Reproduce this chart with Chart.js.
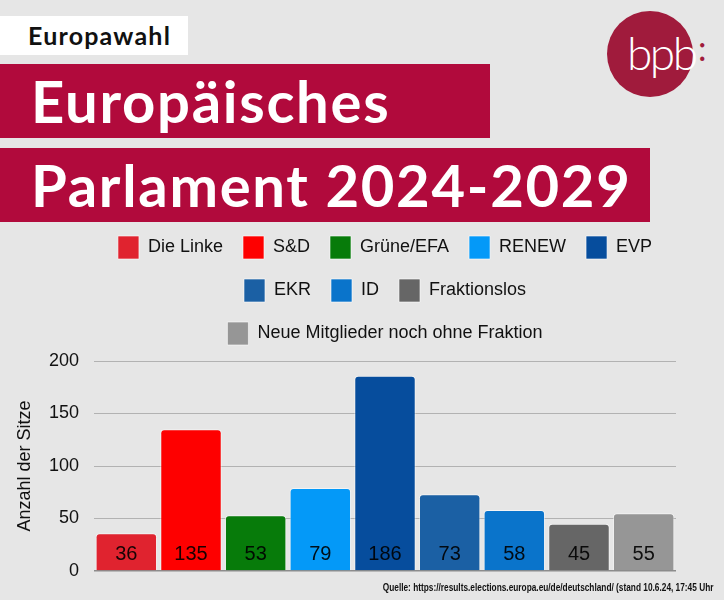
<!DOCTYPE html>
<html lang="de">

<head>
  <meta charset="UTF-8">
  <title>Europäisches Parlament 2024-2029</title>
  <script src="https://cdn.jsdelivr.net/npm/chart.js"></script>
  <style>
    html, body {
      margin: 0;
      padding: 0;
      width: 724px;
      height: 600px;
      overflow: hidden;
      background: #e6e6e6;
    }

    #tag {
      position: absolute;
      left: 0;
      top: 16px;
      width: 160px;
      height: 39px;
      padding-left: 28px;
      background: #fff;
      color: #111;
      font: 700 25px Lato, sans-serif;
      letter-spacing: 1.2px;
      line-height: 39px;
    }

    .band {
      position: absolute;
      left: 0;
      height: 74px;
      padding-left: 31px;
      box-sizing: border-box;
      background: #b10a3c;
      color: #fff;
      font: 700 58px Lato, sans-serif;
      letter-spacing: 1.7px;
      line-height: 74px;
      white-space: nowrap;
    }

    #logo {
      position: absolute;
      left: 607px;
      top: 11px;
      width: 86px;
      height: 86px;
      border-radius: 50%;
      background: #a01b3c;
    }

    #logo span {
      position: absolute;
      left: 20px;
      top: 14px;
      color: #fff;
      font: 300 46px Lato, sans-serif;
      letter-spacing: -2.5px;
    }

    #colon {
      position: absolute;
      left: 698px;
      top: 27px;
      color: #a01b3c;
      font: 400 34px Lato, sans-serif;
    }

    #chartBox {
      position: absolute;
      left: 0;
      top: 200px;
      width: 724px;
      height: 400px;
    }

    #source {
      position: absolute;
      right: 11px;
      top: 582px;
      font: 700 10px "Liberation Sans Narrow", "Liberation Sans", Arial, sans-serif;
      color: #111;
      transform: scaleX(0.83);
      transform-origin: right center;
      white-space: nowrap;
    }
  </style>
</head>

<body>

  <div id="tag">Europawahl</div>
  <div class="band" style="top:64px;width:490px">Europäisches</div>
  <div class="band" style="top:148px;width:650px">Parlament 2024-2029</div>
  <div id="logo"><span>bpb</span></div>
  <div id="colon">:</div>

  <div id="chartBox"><canvas id="seatChart"></canvas></div>

  <div id="source">Quelle: https://results.elections.europa.eu/de/deutschland/ (stand 10.6.24, 17:45 Uhr</div>

  <script>
    // Fraktionen und Sitze
    const parties = ['Die Linke', 'S&D', 'Grüne/EFA', 'RENEW', 'EVP', 'EKR', 'ID', 'Fraktionslos', 'Neue Mitglieder noch ohne Fraktion'];
    const seats = [36, 135, 53, 79, 186, 73, 58, 45, 55];
    const yTicks = [0, 50, 100, 150, 200];

    const partyColors = ['#e0232f', '#fe0000', '#077b0a', '#0499f8', '#064d9d', '#1b60a4', '#0a74cb', '#666666', '#969696'];

    Chart.defaults.font.family = '"Liberation Sans", Arial, sans-serif';
    Chart.defaults.color = '#111';

    // extra space between legend and plot
    const legendGap = {
      id: 'legendGap',
      beforeInit(chart) {
        const fit = chart.legend.fit;
        chart.legend.fit = function () {
          fit.bind(chart.legend)();
          this.height += 6;
        };
      }
    };

    // seat numbers at the foot of each bar
    const barLabels = {
      id: 'barLabels',
      afterDatasetsDraw(chart) {
        const { ctx, chartArea } = chart;
        const meta = chart.getDatasetMeta(0);
        ctx.save();
        ctx.font = '20px "Liberation Sans", Arial, sans-serif';
        ctx.fillStyle = 'rgba(0,0,0,0.9)';
        ctx.textAlign = 'center';
        ctx.textBaseline = 'middle';
        meta.data.forEach((bar, i) => {
          ctx.fillText(seats[i], bar.x, chartArea.bottom - 17);
        });
        ctx.restore();
      }
    };

    const data = {
      labels: parties,
      datasets: [{
        label: 'Sitze',
        data: seats,
        backgroundColor: partyColors,
        borderColor: 'rgba(255,255,255,0.55)',
        borderWidth: 1,
        borderRadius: { topLeft: 4, topRight: 4 },
        barPercentage: 0.95,
        categoryPercentage: 1
      }]
    };

    const config = {
      type: 'bar',
      data: data,
      plugins: [legendGap, barLabels],
      options: {
        responsive: true,
        maintainAspectRatio: false,
        animation: false,
        layout: {
          padding: { left: 6, right: 48, top: 16, bottom: 29 }
        },
        plugins: {
          legend: {
            position: 'top',
            fullSize: false,
            onClick: null,
            labels: {
              boxWidth: 21,
              boxHeight: 23,
              padding: 20,
              color: '#111',
              font: { size: 18 },
              generateLabels: () => parties.map((p, i) => ({
                text: p,
                fillStyle: partyColors[i],
                strokeStyle: 'rgba(255,255,255,0.6)',
                lineWidth: 1,
                fontColor: '#111',
                hidden: false,
                index: i
              }))
            }
          },
          tooltip: { enabled: false }
        },
        scales: {
          x: {
            display: false
          },
          y: {
            min: 0,
            max: 200,
            afterBuildTicks: (scale) => {
              scale.ticks = yTicks.map(v => ({ value: v }));
            },
            afterFit: (scale) => {
              scale.width = 88;
            },
            border: { display: false },
            grid: {
              drawTicks: false,
              color: (c) => c.tick && c.tick.value === 0 ? '#8c8c8c' : '#b2b2b2',
              lineWidth: (c) => c.tick && c.tick.value === 0 ? 1.5 : 1
            },
            ticks: {
              padding: 15,
              color: '#111',
              font: { size: 18 }
            },
            title: {
              display: true,
              text: 'Anzahl der Sitze',
              color: '#111',
              font: { size: 18 },
              padding: { top: 8, bottom: 10 }
            }
          }
        }
      }
    };

    const seatChart = new Chart(document.getElementById('seatChart'), config);
  </script>

</body>

</html>
